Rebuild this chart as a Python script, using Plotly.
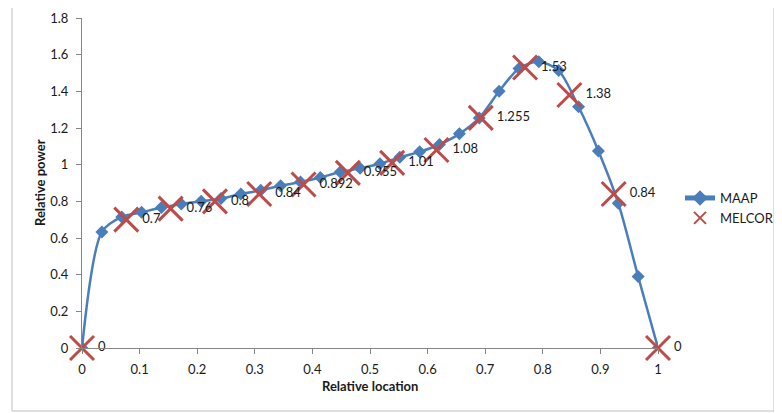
import plotly.graph_objects as go

# MAAP series (30 evenly spaced points)
maap_x = [i / 29 for i in range(30)]
maap_y = [0, 0.633, 0.715, 0.74, 0.766, 0.786, 0.80, 0.815, 0.84, 0.86,
          0.885, 0.905, 0.93, 0.96, 0.98, 1.005, 1.04, 1.07, 1.11, 1.168,
          1.255, 1.40, 1.525, 1.562, 1.513, 1.316, 1.075, 0.79, 0.39, 0]

# MELCOR series (14 evenly spaced points)
melcor_x = [i / 13 for i in range(14)]
melcor_y = [0, 0.7, 0.76, 0.8, 0.84, 0.892, 0.955, 1.01, 1.08, 1.255,
            1.53, 1.38, 0.84, 0]
melcor_labels = ["0", "0.7", "0.76", "0.8", "0.84", "0.892", "0.955", "1.01",
                 "1.08", "1.255", "1.53", "1.38", "0.84", "0"]

x_ticks = [0, 0.1, 0.2, 0.3, 0.4, 0.5, 0.6, 0.7, 0.8, 0.9, 1]
x_tick_text = ["0", "0.1", "0.2", "0.3", "0.4", "0.5", "0.6", "0.7", "0.8", "0.9", "1"]
y_ticks = [0, 0.2, 0.4, 0.6, 0.8, 1, 1.2, 1.4, 1.6, 1.8]
y_tick_text = ["0", "0.2", "0.4", "0.6", "0.8", "1", "1.2", "1.4", "1.6", "1.8"]

FONT = "Lato, Carlito, Calibri, sans-serif"
BLUE = "#4A7EBB"
RED = "#BE4B48"
TXT = "#1a1a1a"

fig = go.Figure()
fig.add_trace(go.Scatter(
    x=maap_x, y=maap_y, name="MAAP", mode="lines+markers",
    line=dict(color=BLUE, width=2.5, shape="spline", smoothing=0.8),
    marker=dict(symbol="diamond", size=10, color=BLUE),
))
fig.add_trace(go.Scatter(
    x=melcor_x, y=melcor_y, name="MELCOR", mode="markers+text",
    marker=dict(symbol="x-thin", size=24, line=dict(color=RED, width=3), color=RED),
    text=melcor_labels, textposition="middle right",
    textfont=dict(family=FONT, size=13, color=TXT),
    cliponaxis=False,
))

# page body has an 8px margin; work in reference-pixel coordinates
OFF = 8
W, H = 774, 405
L, T = 82 - OFF, 18 - OFF
pw, ph = 576, 330
R, B = W - L - pw, H - T - ph

def px(xp):
    return (xp - OFF - L) / pw

def py(yp):
    return (T + ph - (yp - OFF)) / ph

fig.add_shape(type="rect", xref="paper", yref="paper",
              x0=px(12), x1=px(774), y0=py(411), y1=py(3),
              line=dict(color="#BFBFBF", width=1), fillcolor="rgba(0,0,0,0)",
              layer="below")

fig.add_annotation(text="<b>Relative location</b>", xref="paper", yref="paper",
                   x=px(370), y=py(386), xanchor="center", yanchor="middle",
                   showarrow=False, font=dict(family=FONT, size=13, color=TXT))
fig.add_annotation(text="<b>Relative power</b>", xref="paper", yref="paper",
                   x=px(40), y=py(183), xanchor="center", yanchor="middle",
                   textangle=-90, showarrow=False,
                   font=dict(family=FONT, size=13, color=TXT))

fig.update_layout(
    width=W, height=H,
    margin=dict(l=L, r=R, t=T, b=B, autoexpand=False),
    paper_bgcolor="white", plot_bgcolor="white",
    font=dict(family=FONT, size=13, color=TXT),
    showlegend=True,
    legend=dict(x=px(680), xanchor="left", y=py(208), yanchor="middle",
                font=dict(family=FONT, size=13, color=TXT),
                itemsizing="constant", itemwidth=30, tracegroupgap=4,
                bgcolor="rgba(0,0,0,0)"),
    xaxis=dict(range=[0, 1], tickvals=x_ticks, ticktext=x_tick_text,
               showgrid=False, zeroline=False, showline=True, automargin=False,
               linecolor="#868686", linewidth=1, ticks="outside", ticklen=5,
               tickcolor="#868686", ticklabelstandoff=4),
    yaxis=dict(range=[0, 1.8], tickvals=y_ticks, ticktext=y_tick_text,
               showgrid=False, zeroline=False, showline=True, automargin=False,
               linecolor="#868686", linewidth=1, ticks="outside", ticklen=5,
               tickcolor="#868686", ticklabelstandoff=5),
)

fig.write_html("out.html")
